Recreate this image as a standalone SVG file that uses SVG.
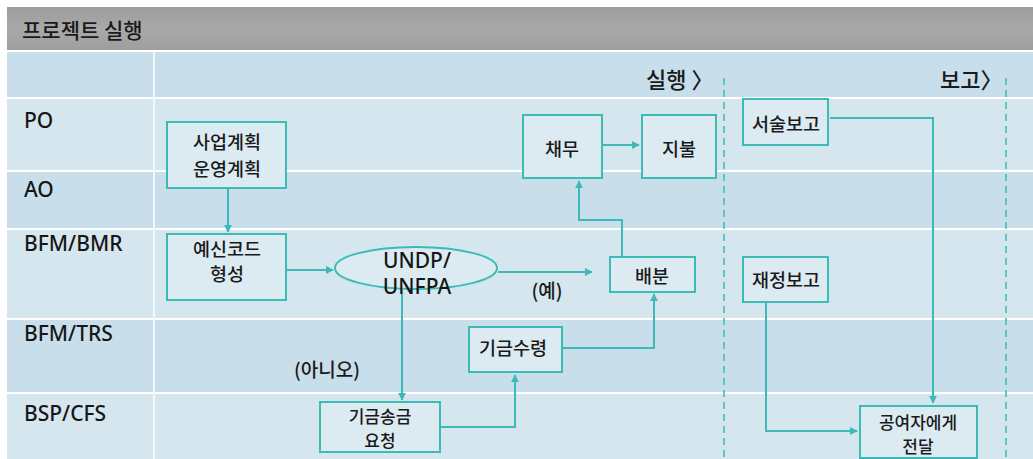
<svg xmlns="http://www.w3.org/2000/svg" width="1033" height="459" viewBox="0 0 1033 459">
<defs>
<style>
.lane-a{fill:#c8dfeb}
.lane-b{fill:#d6e6ef}
.lbl{font-family:"Noto Sans","Liberation Sans",sans-serif;font-size:21px;font-weight:500;fill:#161616}
.kr{font-family:"Noto Sans CJK KR","Noto Sans",sans-serif;font-weight:500;fill:#1a1a1a}
.box{fill:#dcebf2;stroke:#3bbab6;stroke-width:2}
.t{font-family:"Noto Sans CJK KR","Noto Sans",sans-serif;font-size:18.5px;font-weight:500;fill:#1a1a1a;text-anchor:middle}
.t2{font-size:17px}
.c{fill:none;stroke:#3bbab6;stroke-width:2}
.dash{stroke:#3bbab6;stroke-width:1.5;stroke-dasharray:7 5;fill:none}
</style>
<linearGradient id="hg" x1="0" y1="0" x2="0" y2="1">
<stop offset="0" stop-color="#9c9c9c"/>
<stop offset="0.5" stop-color="#a9a9a9"/>
<stop offset="1" stop-color="#9e9e9e"/>
</linearGradient>
<marker id="ah" viewBox="0 0 10 10" refX="9" refY="5" markerWidth="4" markerHeight="4" orient="auto" markerUnits="strokeWidth">
<path d="M0,0 L10,5 L0,10 z" fill="#3bbab6"/>
</marker>
</defs>
<rect x="0" y="0" width="1033" height="459" fill="#ffffff"/>
<g id="header">
<rect x="7" y="7" width="1026" height="43" fill="url(#hg)"/>
<text x="22" y="38" class="kr" font-size="21">프로젝트 실행</text>
</g>
<g id="lanes">
<rect x="7" y="52" width="1026" height="45" class="lane-a"/>
<rect x="7" y="99" width="1026" height="71" class="lane-b"/>
<rect x="7" y="172" width="1026" height="56" class="lane-a"/>
<rect x="7" y="230" width="1026" height="88" class="lane-b"/>
<rect x="7" y="320" width="1026" height="72" class="lane-a"/>
<rect x="7" y="394" width="1026" height="65" class="lane-b"/>
<rect x="153" y="52" width="2" height="407" fill="#f2f7fa"/>
<text x="24" y="128" class="lbl">PO</text>
<text x="24" y="197" class="lbl">AO</text>
<text x="24" y="251" class="lbl">BFM/BMR</text>
<text x="24" y="341" class="lbl">BFM/TRS</text>
<text x="24" y="421" class="lbl">BSP/CFS</text>
<text x="646" y="88" class="kr" font-size="22">실행 〉</text>
<text x="940" y="88" class="kr" font-size="22">보고〉</text>
<line x1="724" y1="78" x2="724" y2="459" class="dash"/>
<line x1="1006" y1="78" x2="1006" y2="459" class="dash"/>
</g>
<g id="connectors">
<path class="c" d="M228,188 V232" marker-end="url(#ah)"/>
<path class="c" d="M286,270 H333" marker-end="url(#ah)"/>
<path class="c" d="M498,272 H592" marker-end="url(#ah)"/>
<path class="c" d="M622,257 V220 H579 V181" marker-end="url(#ah)"/>
<path class="c" d="M602,145 H639" marker-end="url(#ah)"/>
<path class="c" d="M402,290 V400" marker-end="url(#ah)"/>
<path class="c" d="M440,427 H515 V375" marker-end="url(#ah)"/>
<path class="c" d="M562,348 H654 V294" marker-end="url(#ah)"/>
<path class="c" d="M830,118 H933 V403" marker-end="url(#ah)"/>
<path class="c" d="M766,302 V431 H857" marker-end="url(#ah)"/>
<text x="547" y="298" class="kr" font-size="19" text-anchor="middle">(예)</text>
<text x="327" y="377" class="kr" font-size="19" text-anchor="middle">(아니오)</text>
</g>
<g id="n-plan">
<rect x="167" y="122" width="119" height="66" class="box"/>
<text x="227" y="149" class="t">사업계획</text>
<text x="227" y="176" class="t">운영계획</text>
</g>
<g id="n-code">
<rect x="167" y="234" width="119" height="66" class="box"/>
<text x="227" y="256" class="t">예신코드</text>
<text x="227" y="281" class="t">형성</text>
</g>
<g id="n-undp">
<ellipse cx="416" cy="268" rx="81" ry="21" class="box"/>
<text x="417" y="268" class="lbl" text-anchor="middle">UNDP/</text>
<text x="417" y="294" class="lbl" text-anchor="middle">UNFPA</text>
</g>
<g id="n-request">
<rect x="320" y="402" width="120" height="50" class="box"/>
<text x="380" y="423" class="t t2">기금송금</text>
<text x="380" y="447" class="t t2">요청</text>
</g>
<g id="n-receive">
<rect x="469" y="327" width="93" height="45" class="box"/>
<text x="513" y="355" class="t">기금수령</text>
</g>
<g id="n-alloc">
<rect x="610" y="257" width="85" height="35" class="box"/>
<text x="652" y="283" class="t">배분</text>
</g>
<g id="n-debt">
<rect x="523" y="115" width="79" height="63" class="box"/>
<text x="562" y="156" class="t">채무</text>
</g>
<g id="n-pay">
<rect x="642" y="115" width="74" height="63" class="box"/>
<text x="679" y="156" class="t">지불</text>
</g>
<g id="n-narr">
<rect x="743" y="99" width="85" height="46" class="box"/>
<text x="786" y="131" class="t">서술보고</text>
</g>
<g id="n-fin">
<rect x="743" y="257" width="85" height="45" class="box"/>
<text x="786" y="287" class="t">재정보고</text>
</g>
<g id="n-donor">
<rect x="860" y="406" width="117" height="52" class="box"/>
<text x="918" y="429" class="t t2">공여자에게</text>
<text x="918" y="453" class="t t2">전달</text>
</g>
</svg>
